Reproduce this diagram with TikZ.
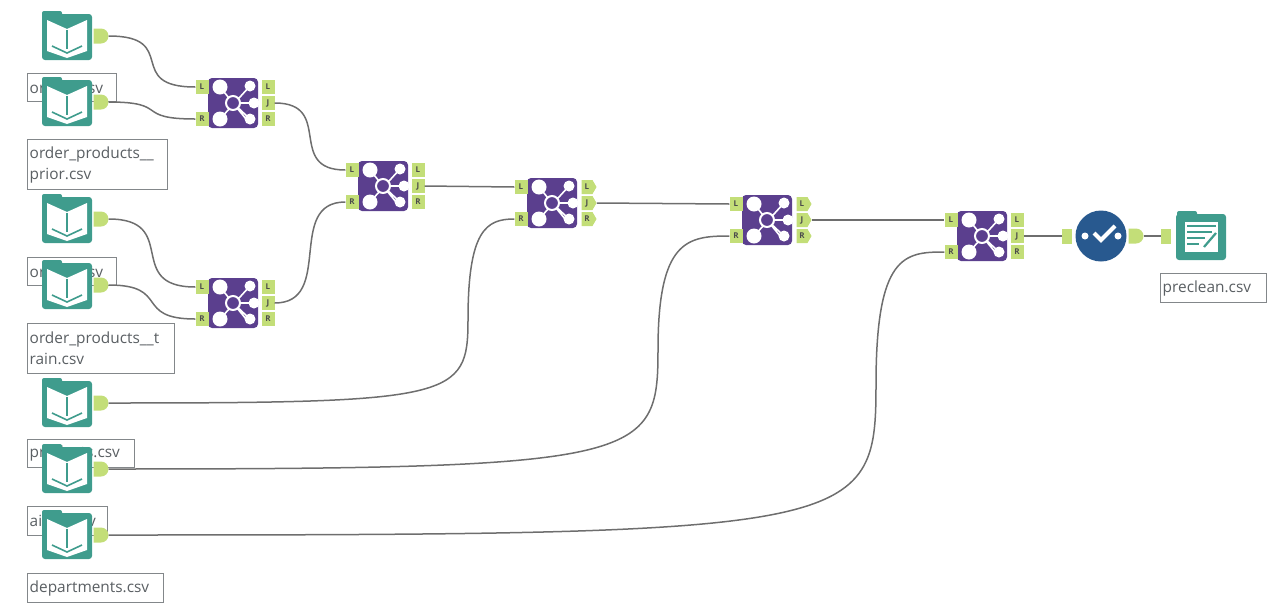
\documentclass[tikz,border=0pt]{standalone}
\usepackage{fontspec}
\setmainfont{Open Sans}
\usetikzlibrary{shapes.misc, shapes.symbols}
\definecolor{toolteal}{HTML}{3F9C8D}
\definecolor{toolpurple}{HTML}{5B3F8E}
\definecolor{toolblue}{HTML}{28598F}
\definecolor{portgreen}{HTML}{C3DE78}
\definecolor{wiregray}{HTML}{6E6E6E}
\definecolor{labelgray}{HTML}{5A5F63}
\tikzset{
  filelabel/.style={draw=labelgray!75, line width=1.4pt, fill=white, anchor=north west, inner xsep=2pt, inner ysep=0pt,
    text=labelgray, align=left, font=\fontsize{15.4}{21}\selectfont, minimum height=#1},
  folderbody/.style={fill=toolteal, rounded corners=3pt, minimum width=50pt, minimum height=46pt, inner sep=0pt},
  joinbody/.style={fill=toolpurple, rounded corners=4pt, minimum size=50pt, inner sep=0pt},
  selectbody/.style={circle, fill=toolblue, minimum size=51pt, inner sep=0pt},
  portbox/.style={fill=portgreen, minimum width=13pt, minimum height=14pt, inner sep=0pt,
    text=black!70, font=\bfseries\fontsize{8}{8}\selectfont},
  portarrow/.style={portbox, signal, signal to=east, signal pointer angle=120, minimum width=15pt},
  portin/.style={fill=portgreen, minimum width=10pt, minimum height=15pt, inner sep=0pt},
  portout/.style={portin, rounded rectangle, rounded rectangle left arc=none},
  wire/.style={draw=wiregray, line width=1.5pt},
}
% x y are reference pixels
\newcommand{\bookinput}[2]{
  \node[folderbody] (#1) at (67,#2) {};
  \fill[toolteal, rounded corners=2pt] (42,#2-26) rectangle (62,#2-18);
  \fill[white] (47,#2-17) -- (67,#2-8) -- (87,#2-17) -- (87,#2+14) -- (67,#2+21) -- (47,#2+14) -- cycle;
  \draw[toolteal, line width=1.6pt] (67,#2-7) -- (67,#2+12);
  \draw[toolteal, line width=1.6pt] (52,#2+9) -- (67,#2+16) -- (82,#2+9);
  \node[portout] (#1out) at (101,#2-1) {};
}
\newcommand{\joinhub}[2]{
  \begin{scope}[shift={(#2)}]
    \node[joinbody] (#1) at (0,0) {};
    \draw[white, line width=1.6pt] (-13,-16) -- (13,16) (-13,16) -- (17,-17) (0,0) -- (21,0) (0,0) -- (17,16);
    \fill[white] (-13,-16) circle (7.5) (-13,16) circle (7.5) (17,-17) circle (5.5) (21,0) circle (5.5) (17,16) circle (5.5);
    \draw[white, line width=2pt, fill=toolpurple] (0,0) circle (7);
    \node[portbox] (#1inL) at (-31,-16) {L};
    \node[portbox] (#1inR) at (-31,16) {R};
  \end{scope}
}
\newcommand{\joinouts}[3]{
  \begin{scope}[shift={(#2)}]
    \node[#3] (#1L) at (35,-16) {L};
    \node[#3] (#1J) at (35,0) {J};
    \node[#3] (#1R) at (35,16) {R};
  \end{scope}
}

\begin{document}
\begin{tikzpicture}[x=1pt, y=-1pt]
\useasboundingbox (0,0) rectangle (1286,606);

% labels sit under the icons
\node[filelabel=28pt, text width=85pt] (lblorders) at (27,73) {orders.csv};
\node[filelabel=50pt, text width=136pt] (lblprior) at (27,139) {order\_products\_\_\\prior.csv};
\node[filelabel=28pt, text width=85pt] (lblordersb) at (27,257) {orders.csv};
\node[filelabel=50pt, text width=143pt] (lbltrain) at (27,323) {order\_products\_\_t\\rain.csv};
\node[filelabel=28pt, text width=103pt] (lblproducts) at (27,439) {products.csv};
\node[filelabel=29pt, text width=76pt] (lblaisles) at (27,506) {aisles.csv};
\node[filelabel=29pt, text width=132pt] (lbldepts) at (27,573) {departments.csv};
\node[filelabel=29pt, text width=102pt] (lblpreclean) at (1160,273) {preclean.csv};

% inputs
\bookinput{orders}{37}
\bookinput{prior}{103}
\bookinput{ordersb}{220}
\bookinput{train}{286}
\bookinput{products}{404}
\bookinput{aisles}{470}
\bookinput{depts}{536}

% joins
\joinhub{joinA}{233,103}
\joinhub{joinB}{233,303}
\joinhub{joinC}{383,186}
\joinhub{joinD}{552,203}
\joinhub{joinE}{767,220}
\joinhub{joinF}{982,236}
\joinouts{joinA}{233,103}{portbox}
\joinouts{joinB}{233,303}{portbox}
\joinouts{joinC}{383,186}{portbox}
\joinouts{joinD}{552,203}{portarrow}
\joinouts{joinE}{767,220}{portarrow}
\joinouts{joinF}{982,236}{portbox}

% select
\node[selectbody] (check) at (1101,236) {};
\fill[white] (1085,236) circle (3.5) (1118,236) circle (3.5);
\draw[white, line width=4pt] (1094,233) -- (1101,240) -- (1115,226);
\node[portin] (checkin) at (1067,236) {};
\node[portout] (checkout) at (1136,236) {};

% output
\node[folderbody] (preclean) at (1201,237) {};
\fill[toolteal, rounded corners=2pt] (1177,211) rectangle (1197,219);
\fill[white] (1185,222) rectangle (1218,252);
\draw[toolteal, line width=1.8pt] (1187,226) -- (1216,226) (1187,232) -- (1212,232) (1187,238) -- (1205,238) (1187,244) -- (1199,244);
\draw[toolteal, line width=2.2pt] (1204,247) -- (1216,233);
\node[portin] (precleanin) at (1166,236) {};

% connectors
\draw[wire] (ordersout.east) .. controls +(72,0) and +(-72,0) .. (joinAinL.west);
\draw[wire] (priorout.east) .. controls +(62,0) and +(-62,0) .. (joinAinR.west);
\draw[wire] (ordersbout.east) .. controls +(72,0) and +(-72,0) .. (joinBinL.west);
\draw[wire] (trainout.east) .. controls +(62,0) and +(-62,0) .. (joinBinR.west);
\draw[wire] (joinAJ.east) .. controls +(60,0) and +(-60,0) .. (joinCinL.west);
\draw[wire] (joinBJ.east) .. controls +(60,0) and +(-60,0) .. (joinCinR.west);
\draw[wire] (joinCJ.east) -- (joinDinL.west);
\draw[wire] (joinDJ.east) -- (joinEinL.west);
\draw[wire] (joinEJ.east) -- (joinFinL.west);
\coordinate (bendD) at (468,320);
\coordinate (bendE) at (658,350);
\coordinate (bendF) at (876,385);
\draw[wire] (productsout.east) .. controls +(345,0) and +(0,78) .. (bendD) .. controls +(0,-90) and +(-28,0) .. (joinDinR.west);
\draw[wire] (aislesout.east) .. controls +(535,0) and +(0,110) .. (bendE) .. controls +(0,-110) and +(-42,0) .. (joinEinR.west);
\draw[wire] (deptsout.east) .. controls +(750,0) and +(0,145) .. (bendF) .. controls +(0,-130) and +(-40,0) .. (joinFinR.west);
\draw[wire] (joinFJ.east) -- (checkin.west);
\draw[wire] (checkout.east) -- (precleanin.west);
\end{tikzpicture}
\end{document}
